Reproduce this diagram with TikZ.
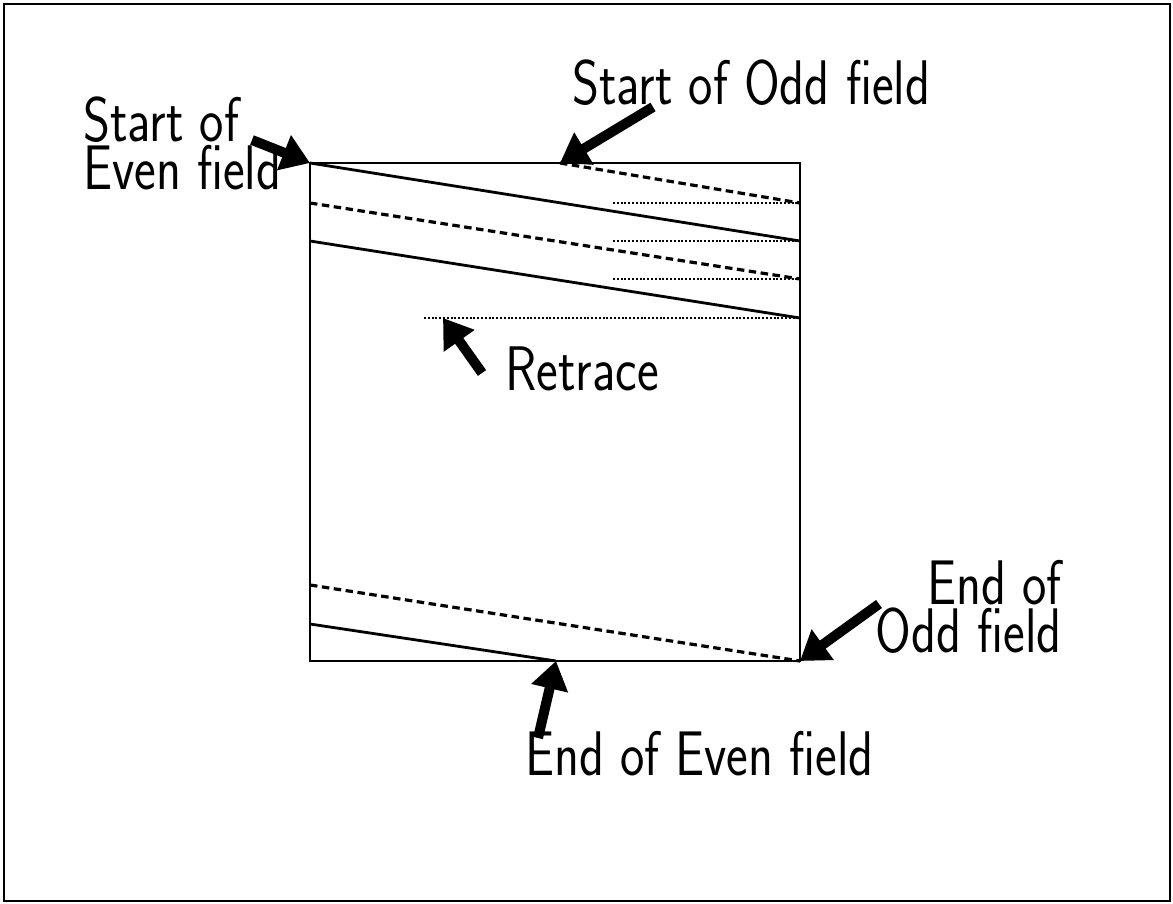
\documentclass[tikz,border=0pt]{standalone}
\usepackage{fontspec}
\newfontfamily\lblfont[FakeStretch=0.82]{Latin Modern Sans}
\usetikzlibrary{arrows.meta}
\begin{document}
\begin{tikzpicture}[x=1pt,y=-1pt,
  lbl/.style={inner sep=0pt, font=\lblfont\fontsize{63}{48}\selectfont},
  fat/.style={line width=10pt, -{Triangle[length=28pt,width=36pt]}},
  frameline/.style={line width=2pt},
  boxline/.style={line width=2pt},
  scanline/.style={line width=2.8pt},
  dashline/.style={line width=3.2pt, dash pattern=on 7.5pt off 4.5pt},
  retraceline/.style={line width=2.8pt, dash pattern=on 2pt off 1.8pt}]
\useasboundingbox (0,0) rectangle (1173,904);
\fill[white] (0,0) rectangle (1173,904);
\draw[frameline] (4,4) rectangle (1170,901);
% raster box
\coordinate (tl) at (310,163);
\coordinate (tr) at (800,163);
\coordinate (bl) at (310,661);
\coordinate (br) at (800,661);
\draw[boxline] (tl) rectangle (br);
% scan lines (top)
\coordinate (oddstart) at (560,163);
\coordinate (r1) at (800,203);
\coordinate (r2) at (800,241);
\coordinate (r3) at (800,279);
\coordinate (r4) at (800,318);
\coordinate (l1) at (310,203);
\coordinate (l2) at (310,241);
\coordinate (d1) at (613,203);
\coordinate (d2) at (613,241);
\coordinate (d3) at (613,279);
\coordinate (d4) at (424,318);
\draw[scanline] (tl) -- (r2);
\draw[scanline] (l2) -- (r4);
\draw[dashline] (oddstart) -- (r1);
\draw[dashline] (l1) -- (r3);
\draw[retraceline] (d1) -- (r1);
\draw[retraceline] (d2) -- (r2);
\draw[retraceline] (d3) -- (r3);
\draw[retraceline] (d4) -- (r4);
% scan lines (bottom)
\coordinate (l5) at (310,585);
\coordinate (l6) at (310,624);
\coordinate (evenend) at (556,661);
\draw[dashline] (l5) -- (br);
\draw[scanline] (l6) -- (evenend);
% labels
\node[lbl, anchor=base west, align=left] (soe) at (83,190) {Start of\\Even field};
\node[lbl, anchor=base west] (soo) at (572,105) {Start of Odd field};
\node[lbl, anchor=base west] (ret) at (505,390) {Retrace};
\node[lbl, anchor=base east, align=right] (eoo) at (1062,652) {End of\\Odd field};
\node[lbl, anchor=base west] (eoe) at (525,775) {End of Even field};
% arrows
\coordinate (a1) at (252,140);
\coordinate (a2) at (653,107);
\coordinate (a3) at (482,373);
\coordinate (a4) at (879,604);
\coordinate (a5) at (538,738);
\coordinate (rtip) at (443,318);
\draw[fat] (a1) -- (tl);
\draw[fat] (a2) -- (oddstart);
\draw[fat] (a3) -- (rtip);
\draw[fat] (a4) -- (br);
\draw[fat] (a5) -- (evenend);
\end{tikzpicture}
\end{document}
